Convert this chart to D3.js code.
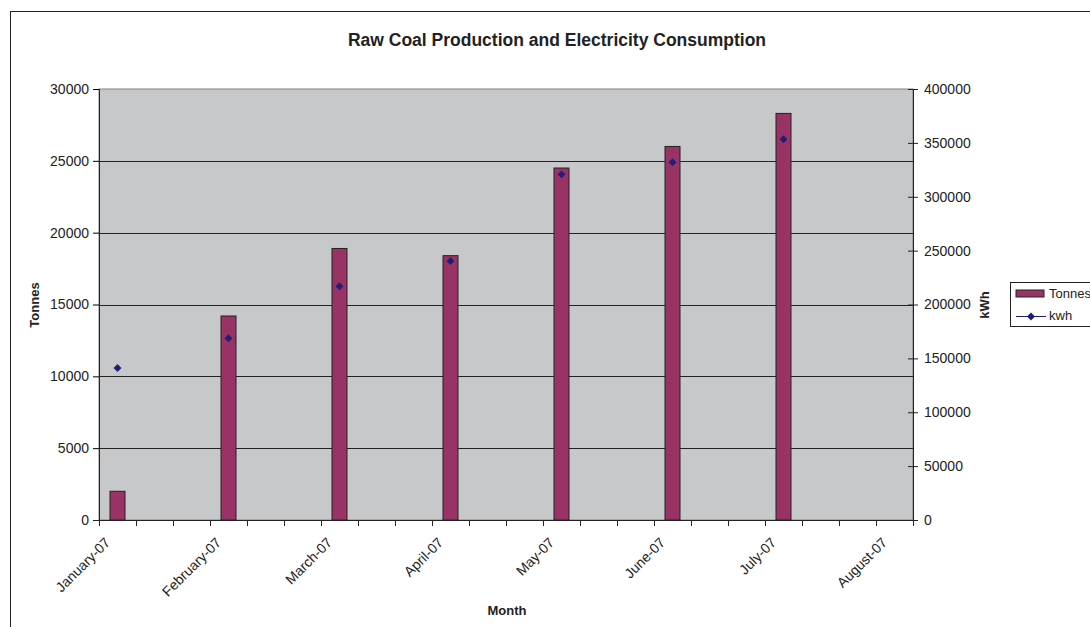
<!DOCTYPE html>
<html>
<head>
<meta charset="utf-8">
<script src="https://cdn.jsdelivr.net/npm/d3@7"></script>
<style>
  body { margin: 0; background: #fff; }
  text { font-family: "Liberation Sans", Arial, sans-serif; fill: #222; }
</style>
</head>
<body>
<svg id="chart" width="1090" height="627"></svg>
<script>
// data
const months = ["January-07", "February-07", "March-07", "April-07", "May-07", "June-07", "July-07", "August-07"];
const tonnes = [2000, 14200, 18900, 18400, 24500, 26000, 28300, null];
const kwh = [141000, 168700, 217000, 240300, 320800, 332000, 353300, null];
const leftTicks = [0, 5000, 10000, 15000, 20000, 25000, 30000];
const rightTicks = [0, 50000, 100000, 150000, 200000, 250000, 300000, 350000, 400000];
const slotsPerMonth = 3; // date axis: 3 tick slots per month

const svg = d3.select("#chart");
const m = { left: 99, right: 913, top: 89, bottom: 520 };

// outer chart border (runs past the window on right/bottom)
svg.append("rect")
  .attr("x", 10.5).attr("y", 11.5)
  .attr("width", 1200).attr("height", 700)
  .attr("fill", "none").attr("stroke", "#222").attr("stroke-width", 1);

// slots along x
const nSlots = (months.length - 1) * slotsPerMonth + 1;
const slots = d3.range(nSlots);
const x = d3.scaleBand().domain(slots).range([m.left, m.right]).paddingInner(0).paddingOuter(0);
const yL = d3.scaleLinear().domain([0, 30000]).range([m.bottom, m.top]);
const yR = d3.scaleLinear().domain([0, 400000]).range([m.bottom, m.top]);

// plot background
svg.append("rect")
  .attr("x", m.left).attr("y", m.top)
  .attr("width", m.right - m.left).attr("height", m.bottom - m.top)
  .attr("fill", "#c7c8ca").attr("stroke", "#808080");

// gridlines
svg.append("g").selectAll("line")
  .data(leftTicks.filter(d => d > 0 && d < 30000))
  .join("line")
  .attr("x1", m.left).attr("x2", m.right)
  .attr("y1", d => Math.round(yL(d)) + 0.5).attr("y2", d => Math.round(yL(d)) + 0.5)
  .attr("stroke", "#222");

// bars
const barW = 15;
const monthData = months.map((mo, i) => ({ mo, i, t: tonnes[i], k: kwh[i] }));
const cx = d => x(d.i * slotsPerMonth) + x.bandwidth() / 2;
svg.append("g").selectAll("rect")
  .data(monthData.filter(d => d.t != null))
  .join("rect")
  .attr("x", d => cx(d) - barW / 2)
  .attr("y", d => yL(d.t))
  .attr("width", barW)
  .attr("height", d => yL(0) - yL(d.t))
  .attr("fill", "#993366").attr("stroke", "#222").attr("stroke-width", 1);

// kwh markers
const diamond = d3.symbol().type(d3.symbolDiamond2).size(40);
svg.append("g").selectAll("path")
  .data(monthData.filter(d => d.k != null))
  .join("path")
  .attr("d", diamond)
  .attr("transform", d => `translate(${cx(d)},${yR(d.k)})`)
  .attr("fill", "#1f1f78");

// left axis
const axL = svg.append("g").attr("transform", `translate(${m.left},0)`)
  .call(d3.axisLeft(yL).tickValues(leftTicks).tickSize(6).tickPadding(4).tickFormat(d3.format("d")));
axL.select(".domain").attr("stroke", "#222");
axL.selectAll("text").style("font-size", "14px").style("font-family", "Liberation Sans, Arial, sans-serif").attr("fill", "#222");

// right axis, ticks cross the line
const axR = svg.append("g").attr("transform", `translate(${m.right},0)`)
  .call(d3.axisRight(yR).tickValues(rightTicks).tickSize(5).tickPadding(6).tickFormat(d3.format("d")));
axR.select(".domain").attr("stroke", "#222");
axR.selectAll(".tick line").attr("x1", -5).attr("stroke", "#222");
axR.selectAll("text").style("font-size", "14px").style("font-family", "Liberation Sans, Arial, sans-serif").attr("fill", "#222");

// x axis: tick at every slot edge
const edges = d3.range(nSlots + 1).map(i => m.left + i * x.bandwidth());
const axX = svg.append("g");
axX.append("line").attr("x1", m.left - 6).attr("x2", m.right).attr("y1", m.bottom + 0.5).attr("y2", m.bottom + 0.5).attr("stroke", "#222");
axX.selectAll("line.tk").data(edges).join("line").attr("class", "tk")
  .attr("x1", d => Math.round(d) + 0.5).attr("x2", d => Math.round(d) + 0.5)
  .attr("y1", m.bottom).attr("y2", m.bottom + 6).attr("stroke", "#222");
axX.selectAll("text").data(monthData).join("text")
  .attr("transform", d => `translate(${cx(d) - 10},${m.bottom + 20}) rotate(-45)`)
  .attr("text-anchor", "end").attr("dy", "0.35em")
  .style("font-size", "14px")
  .text(d => d.mo);

// titles
svg.append("text").attr("x", 557).attr("y", 46).attr("text-anchor", "middle")
  .style("font-size", "17.5px").style("font-weight", "bold").text("Raw Coal Production and Electricity Consumption");
svg.append("text").attr("x", 507).attr("y", 615).attr("text-anchor", "middle")
  .style("font-size", "13px").style("font-weight", "bold").text("Month");
svg.append("text").attr("transform", "translate(39,305) rotate(-90)").attr("text-anchor", "middle")
  .style("font-size", "13px").style("font-weight", "bold").text("Tonnes");
svg.append("text").attr("transform", "translate(989,305) rotate(-90)").attr("text-anchor", "middle")
  .style("font-size", "13px").style("font-weight", "bold").text("kWh");

// legend
const lg = svg.append("g");
lg.append("rect").attr("x", 1010.5).attr("y", 282.5).attr("width", 100).attr("height", 44)
  .attr("fill", "#fff").attr("stroke", "#222");
lg.append("rect").attr("x", 1016).attr("y", 290).attr("width", 28).attr("height", 7)
  .attr("fill", "#993366").attr("stroke", "#222");
lg.append("text").attr("x", 1049).attr("y", 298).style("font-size", "13px").text("Tonnes");
lg.append("line").attr("x1", 1016).attr("x2", 1046).attr("y1", 316.5).attr("y2", 316.5).attr("stroke", "#1f1f78");
lg.append("path").attr("d", diamond).attr("transform", "translate(1031,316.5)").attr("fill", "#1f1f78");
lg.append("text").attr("x", 1049).attr("y", 320).style("font-size", "13px").text("kwh");
</script>
</body>
</html>
